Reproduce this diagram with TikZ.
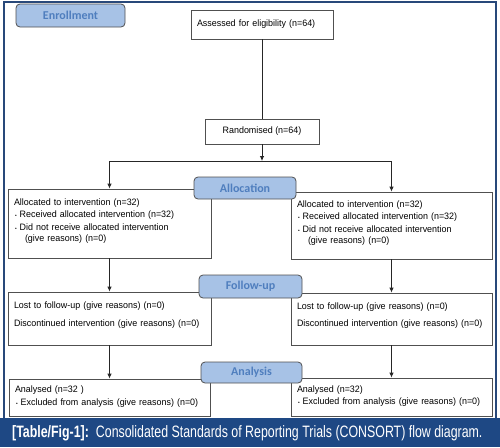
\documentclass[tikz,border=0pt]{standalone}
\usepackage{fontspec}
\setmainfont{Liberation Sans}[FakeStretch=0.96]
\newfontfamily\capfont{Liberation Sans}[FakeStretch=0.75]
\newfontfamily\tagfont{Carlito}
\usetikzlibrary{arrows.meta}
\definecolor{frameblue}{RGB}{40,72,122}
\definecolor{capblue}{RGB}{30,72,132}
\definecolor{tagfill}{RGB}{167,194,230}
\definecolor{tagtext}{RGB}{79,126,190}
\definecolor{boxline}{RGB}{80,80,80}
\newcommand{\dotitem}{\hspace*{1pt}{\fontsize{5}{5}\selectfont\textbullet}\hspace{3pt}}
\newcommand{\lift}[1]{\rule[-#1]{0pt}{0pt}}

\begin{document}
\begin{tikzpicture}[x=1pt,y=-1pt,
  box/.style={draw=boxline, line width=0.8pt, fill=white, inner xsep=6pt, inner ysep=0pt,
    align=left, font=\fontsize{9.3}{11.5}\selectfont},
  tag/.style={draw=boxline, line width=0.8pt, fill=tagfill, rounded corners=4pt, inner sep=0pt,
    text=tagtext, font=\tagfont\bfseries\fontsize{12}{14}\selectfont},
  link/.style={draw=black!85, line width=0.8pt},
  arr/.style={-{Latex[length=5pt,width=4.5pt]}}]
  \useasboundingbox (0,0) rectangle (500,447);
  \draw[frameblue, line width=1.2pt] (4,2) rectangle (496,420);
  \fill[capblue] (0,418) rectangle (500,447);
  \node[anchor=west, text=white, inner sep=0pt, font=\capfont\fontsize{16.5}{18}\selectfont] (cap) at (12,433)
    {\textbf{[Table/Fig-1]:}\hspace{7pt}Consolidated Standards of Reporting Trials (CONSORT) flow diagram.};

  \node[box, minimum width=142, minimum height=29, text width=130] (assess) at (262,24.5)
    {Assessed for eligibility (n=64)};
  \node[box, minimum width=114, minimum height=25, align=center] (rand) at (262,131.5)
    {Randomised (n=64)};
  \coordinate (split) at (262,161);

  \node[box, minimum width=203, minimum height=69, text width=191] (alloc1) at (109.5,223.5)
    {Allocated to intervention (n=32)\\[1pt]
     \dotitem Received allocated intervention (n=32)\\[1pt]
     \dotitem Did not receive allocated intervention\\
     \hspace*{11pt}(give reasons) (n=0)\lift{7pt}};
  \node[box, minimum width=201, minimum height=67, text width=189] (alloc2) at (391.5,225.5)
    {Allocated to intervention (n=32)\\[1pt]
     \dotitem Received allocated intervention (n=32)\\[1pt]
     \dotitem Did not receive allocated intervention\\
     \hspace*{11pt}(give reasons) (n=0)\lift{7pt}};

  \node[box, minimum width=203, minimum height=53, text width=191] (follow1) at (109.5,318.5)
    {Lost to follow-up (give reasons) (n=0)\\[6pt]
     Discontinued intervention (give reasons) (n=0)\lift{9pt}};
  \node[box, minimum width=201, minimum height=52, text width=189] (follow2) at (391.5,319)
    {Lost to follow-up (give reasons) (n=0)\\[6pt]
     Discontinued intervention (give reasons) (n=0)\lift{9pt}};

  \node[box, minimum width=201, minimum height=37, text width=189] (anal1) at (109.5,397.5)
    {Analysed (n=32 )\\[1pt]
     \dotitem Excluded from analysis (give reasons) (n=0)\lift{4pt}};
  \node[box, minimum width=201, minimum height=38, text width=189] (anal2) at (391.5,397)
    {Analysed (n=32)\\[1pt]
     \dotitem Excluded from analysis (give reasons) (n=0)\lift{4pt}};

  \draw[link] (assess) -- (rand);
  \draw[link, arr] (rand) -- (split);
  \draw[link, arr] (split) -| (alloc1);
  \draw[link, arr] (split) -| (alloc2);
  \draw[link, arr] (alloc1) -- (follow1);
  \draw[link, arr] (alloc2) -- (follow2);
  \draw[link, arr] (follow1) -- (anal1);
  \draw[link, arr] (follow2) -- (anal2);

  \node[tag, minimum width=109, minimum height=23] (enroll) at (70.5,15.5) {Enrollment};
  \node[tag, minimum width=102, minimum height=22] (allocT) at (245,188) {Allocation};
  \node[tag, minimum width=103, minimum height=23] (followT) at (250.5,286.5) {Follow-up};
  \node[tag, minimum width=101, minimum height=21] (analT) at (251.5,372.5) {Analysis};
\end{tikzpicture}
\end{document}
